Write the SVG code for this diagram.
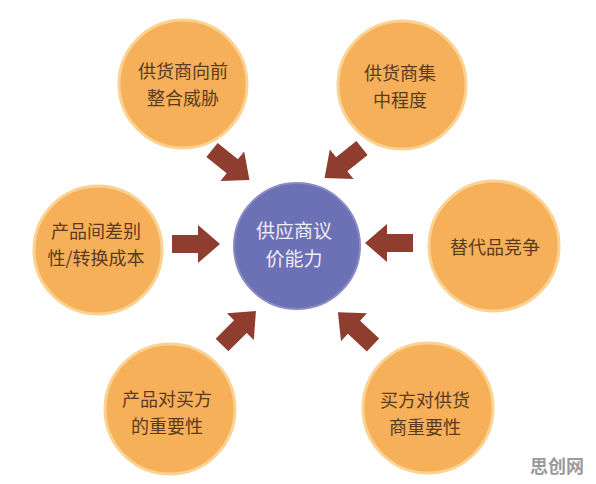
<svg xmlns="http://www.w3.org/2000/svg" width="596" height="484" viewBox="0 0 596 484">
<defs>
<style>
.o{fill:#f6b05a;stroke:#fbd291;stroke-width:3}
.c{fill:#6c70b4;stroke:#8a8cc4;stroke-width:2}
.t{font-family:"Noto Sans CJK SC",sans-serif;font-size:18px;fill:#5b3a1e;text-anchor:middle}
.tc{font-family:"Noto Sans CJK SC",sans-serif;font-size:19px;fill:#eeeef8;text-anchor:middle}
.a{fill:#8f3d2f}
.w{font-family:"Noto Sans CJK SC",sans-serif;font-size:18px;font-weight:bold;fill:#9a9a9a;text-anchor:middle}
</style>
<path id="arr" d="M0,-9 L26,-9 L26,-19 L48,0 L26,19 L26,9 L0,9 Z"/>
</defs>
<rect width="596" height="484" fill="#ffffff"/>
<g id="connectors">
<use href="#arr" class="a" transform="translate(172,244)"/>
<use href="#arr" class="a" transform="translate(413,243) rotate(180)"/>
<use href="#arr" class="a" transform="translate(212,150) rotate(38.7)"/>
<use href="#arr" class="a" transform="translate(362,148) rotate(141.3)"/>
<use href="#arr" class="a" transform="translate(222,345) rotate(-45)"/>
<use href="#arr" class="a" transform="translate(373,345) rotate(-137)"/>
</g>
<g id="center">
<circle class="c" cx="297" cy="246" r="63"/>
<text class="tc" x="294" y="238">供应商议</text>
<text class="tc" x="294" y="266">价能力</text>
</g>
<g id="n1">
<circle class="o" cx="183" cy="84" r="64"/>
<text class="t" x="183" y="78">供货商向前</text>
<text class="t" x="183" y="104.5">整合威胁</text>
</g>
<g id="n2">
<circle class="o" cx="402" cy="85" r="64"/>
<text class="t" x="400" y="80">供货商集</text>
<text class="t" x="400" y="106.5">中程度</text>
</g>
<g id="n3">
<circle class="o" cx="98" cy="250" r="64"/>
<text class="t" x="96" y="238">产品间差别</text>
<text class="t" x="96" y="264.5">性/转换成本</text>
</g>
<g id="n4">
<circle class="o" cx="494" cy="246" r="65"/>
<text class="t" x="495" y="254">替代品竞争</text>
</g>
<g id="n5">
<circle class="o" cx="170" cy="409" r="65"/>
<text class="t" x="167" y="406">产品对买方</text>
<text class="t" x="167" y="432.5">的重要性</text>
</g>
<g id="n6">
<circle class="o" cx="428" cy="408" r="65"/>
<text class="t" x="425" y="407">买方对供货</text>
<text class="t" x="425" y="433.5">商重要性</text>
</g>
<text class="w" x="557" y="473">思创网</text>
</svg>
